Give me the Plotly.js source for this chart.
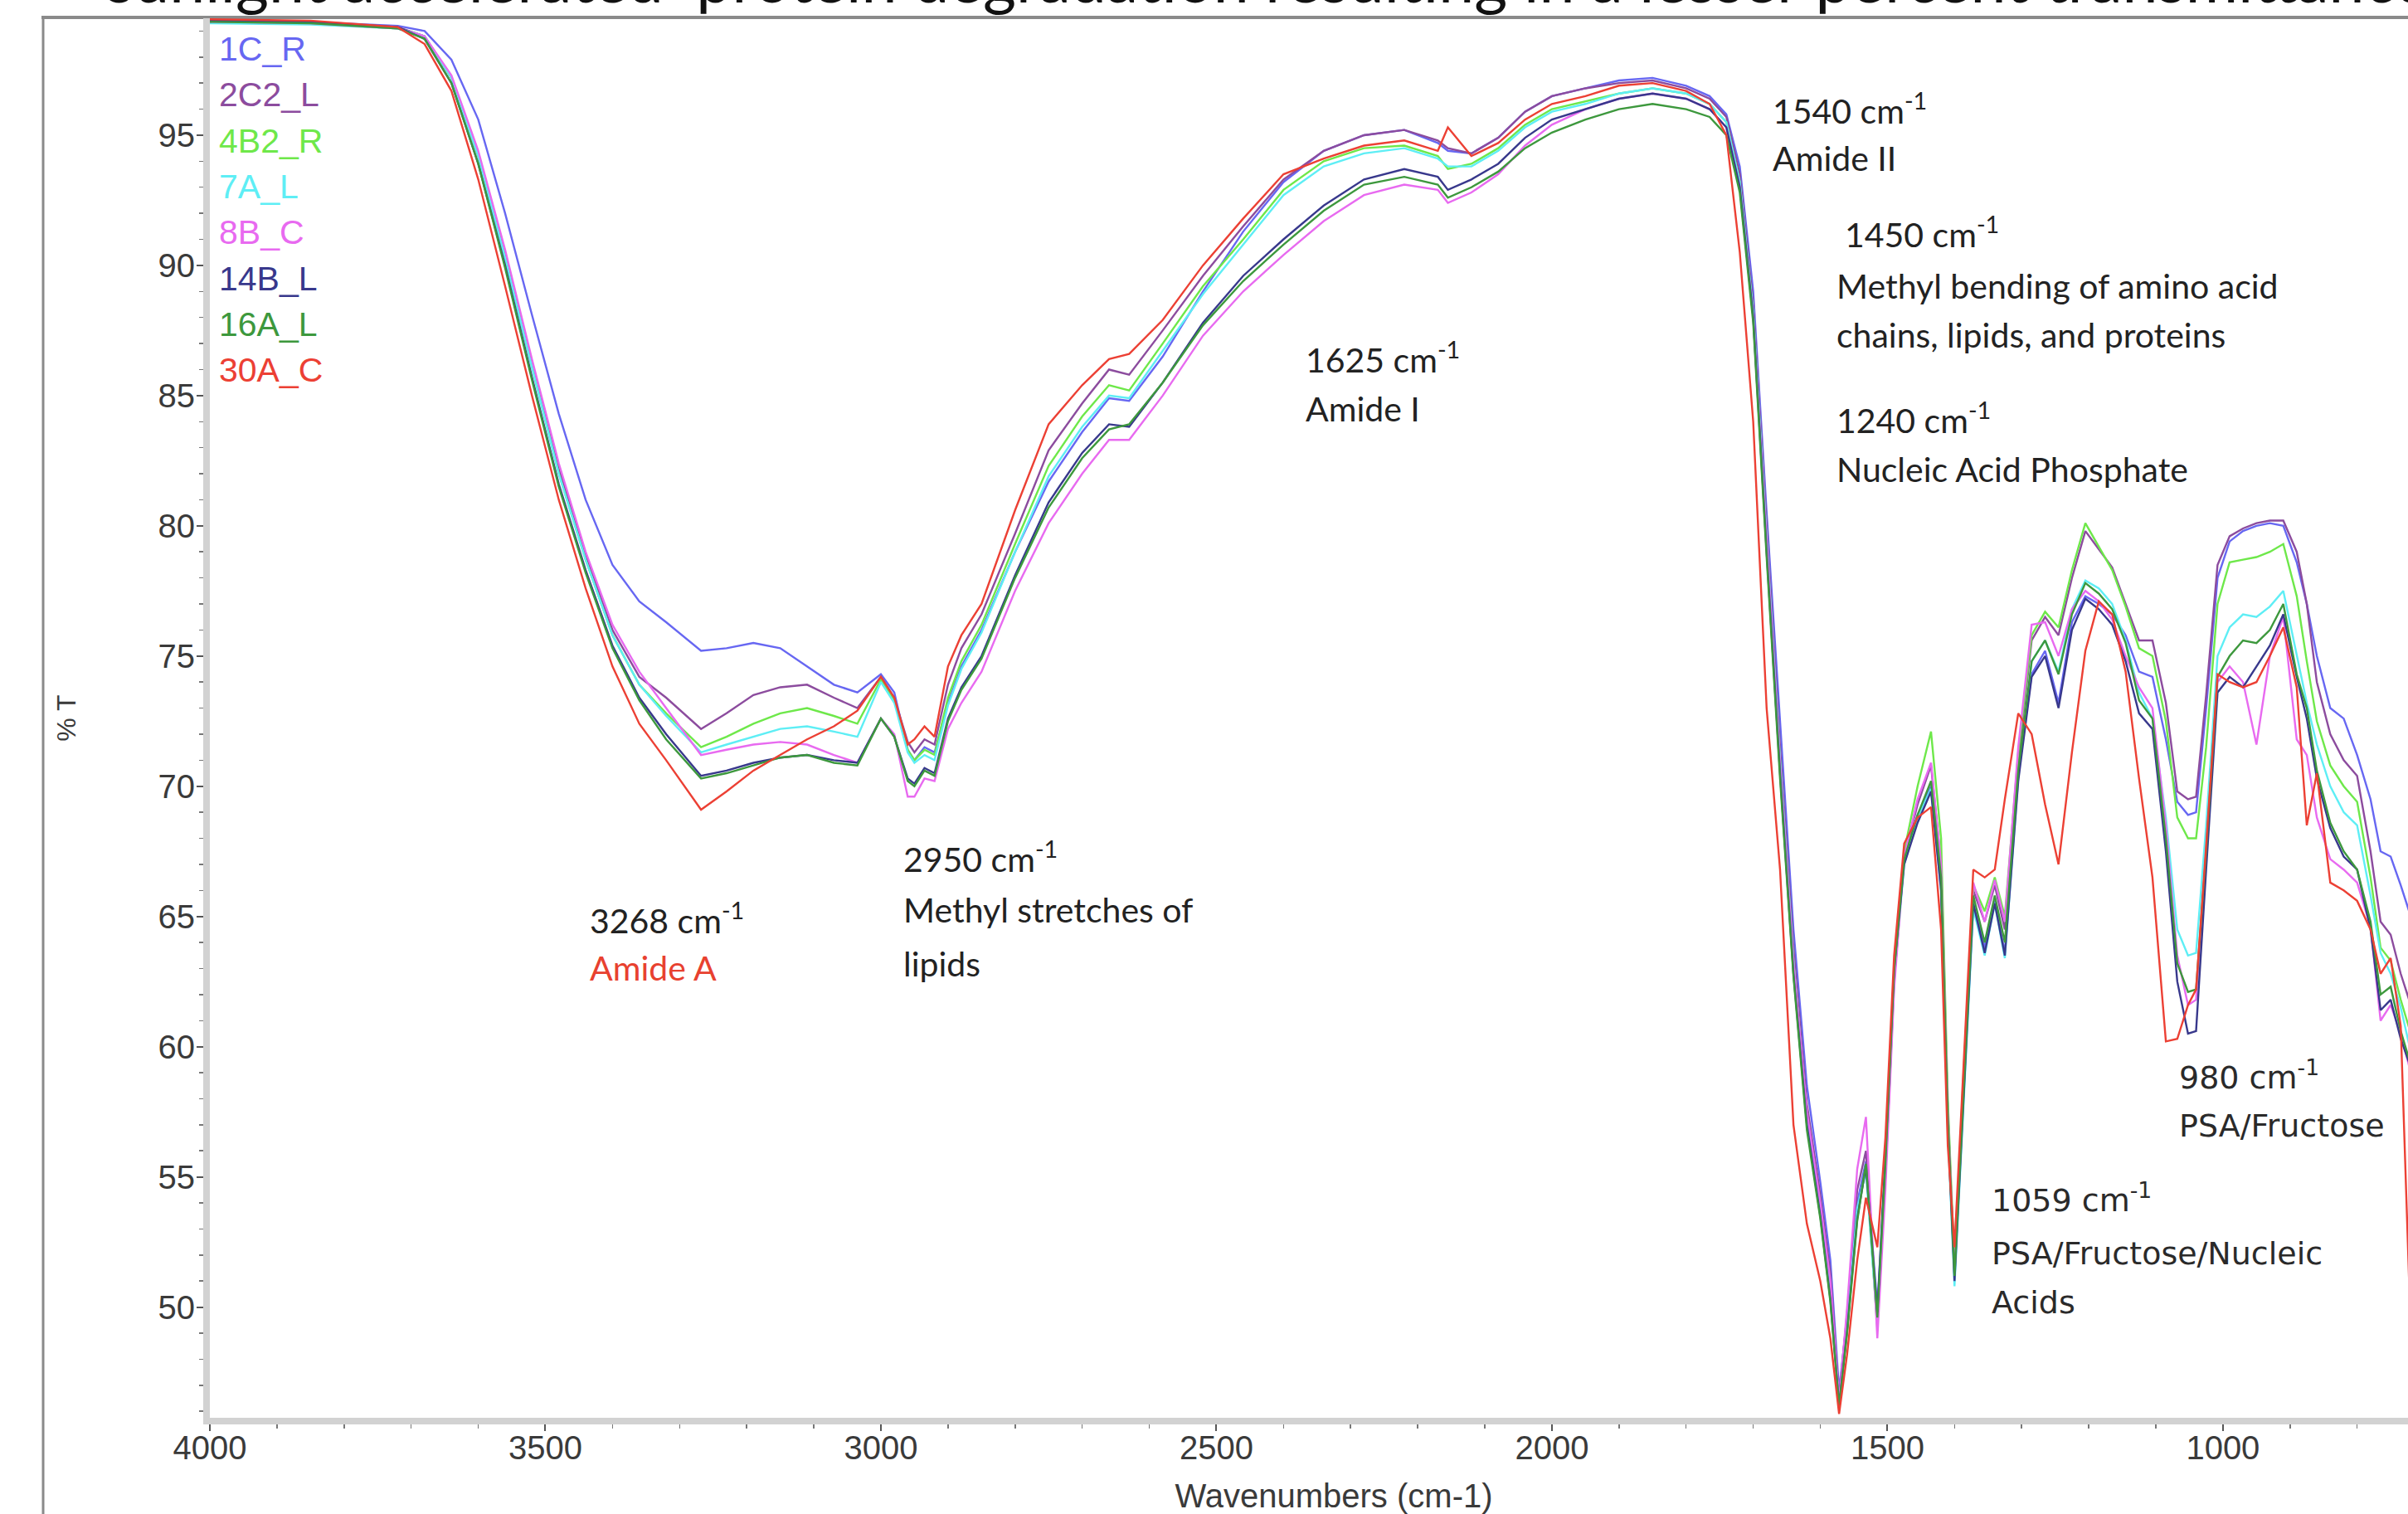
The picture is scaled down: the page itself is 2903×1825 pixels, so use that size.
<!DOCTYPE html>
<html><head><meta charset="utf-8">
<script src="https://cdn.plot.ly/plotly-3.0.1.min.js"></script>
<style>html,body{margin:0;padding:0;overflow:hidden;background:#fff;width:2903px;height:1825px}</style>
</head><body><div id="chart" style="width:2975px;height:1825px"></div>
<script>
// ---------------- DATA ----------------
const wavenumber = [4000,3850,3720,3680,3640,3600,3560,3520,3480,3440,
3400,3360,3320,3268,3230,3190,3150,3110,3070,3035,
3000,2980,2960,2950,2935,2920,2900,2880,2850,2800,
2750,2700,2660,2630,2580,2520,2460,2400,2340,2280,
2220,2170,2155,2120,2080,2040,2000,1950,1900,1850,
1800,1765,1740,1720,1700,1680,1660,1640,1620,1600,
1585,1572,1560,1545,1532,1515,1503,1490,1475,1455,
1435,1420,1410,1400,1388,1372,1355,1340,1325,1305,
1285,1265,1245,1225,1205,1185,1165,1145,1125,1105,
1085,1068,1052,1040,1025,1008,990,970,950,930,
910,890,875,860,840,820,800,780,765,750,
735,720,700];

const t_1C_R = [99.4,99.35,99.2,99.0,97.9,95.6,92.0,88.1,84.3,81.0,
78.5,77.1,76.3,75.2,75.3,75.5,75.3,74.6,73.9,73.6,
74.3,73.6,71.4,71.0,71.5,71.3,73.2,74.6,76.0,79.0,
81.7,83.6,84.9,84.8,86.5,89.0,91.3,93.2,94.4,95.0,
95.2,94.7,94.4,94.3,94.9,95.9,96.5,96.8,97.1,97.2,
96.9,96.5,95.8,93.8,89.0,80.5,72.5,64.5,58.5,54.8,
51.8,46.8,49.6,54.0,55.6,50.0,55.5,62.8,67.2,68.9,
70.0,66.5,57.5,51.2,57.5,65.5,63.8,65.6,63.6,70.5,
74.3,75.2,73.2,76.3,77.3,77.0,76.6,75.8,74.4,74.2,
71.8,69.4,68.9,69.0,73.0,78.0,79.4,79.8,80.0,80.1,
80.0,78.6,77.0,75.0,73.0,72.6,71.2,69.5,67.5,67.3,
66.2,65.0,64.5];

const t_2C2_L = [99.4,99.35,99.15,98.8,97.2,94.2,90.4,86.2,82.2,78.9,
76.0,74.2,73.4,72.2,72.8,73.5,73.8,73.9,73.4,73.0,
74.2,73.4,71.7,71.3,71.8,71.6,73.9,75.3,76.6,79.7,
82.9,84.7,86.0,85.8,87.5,89.6,91.5,93.3,94.4,95.0,
95.2,94.8,94.5,94.3,94.9,95.9,96.5,96.8,97.0,97.1,
96.8,96.4,95.7,93.5,88.5,79.8,71.5,63.8,57.8,54.3,
51.3,46.5,49.8,54.5,56.0,49.4,55.0,62.5,67.3,69.3,
70.8,67.0,57.5,51.3,58.0,66.0,64.8,66.2,64.5,71.0,
75.6,76.5,75.8,78.0,79.8,79.1,78.4,77.0,75.6,75.6,
73.2,69.8,69.5,69.6,73.5,78.5,79.6,79.9,80.1,80.2,
80.2,79.0,77.0,74.0,72.0,71.0,70.4,67.5,64.8,64.3,
62.8,61.6,61.0];

const t_4B2_R = [99.35,99.3,99.1,98.8,97.2,94.2,90.3,86.1,82.0,78.7,
75.8,73.9,72.8,71.5,71.9,72.4,72.8,73.0,72.7,72.4,
74.1,73.3,71.4,71.0,71.4,71.2,73.4,74.8,76.2,79.3,
82.3,84.2,85.4,85.2,87.0,89.2,91.0,92.9,94.0,94.5,
94.6,94.2,93.7,93.9,94.5,95.4,96.0,96.3,96.6,96.8,
96.6,96.2,95.5,93.2,88.2,79.4,71.0,63.3,57.3,53.9,
50.6,46.3,49.2,53.6,55.4,49.2,55.5,62.8,67.5,70.0,
72.1,68.0,58.0,51.5,58.2,66.2,65.2,66.5,65.0,71.3,
75.8,76.7,76.1,78.3,80.1,79.2,78.3,76.9,75.3,75.0,
72.5,68.8,68.0,68.0,71.5,77.0,78.6,78.7,78.8,79.0,
79.3,77.3,74.8,72.5,70.8,70.0,69.4,66.5,63.8,63.3,
61.8,60.5,59.5];

const t_7A_L = [99.3,99.25,99.1,98.8,97.2,94.2,90.3,86.1,82.0,78.7,
75.8,73.9,72.7,71.3,71.6,71.9,72.2,72.3,72.1,71.9,
74.0,73.2,71.3,70.9,71.2,71.0,73.1,74.5,75.9,79.0,
81.9,83.8,85.0,84.9,86.7,88.9,90.8,92.7,93.8,94.3,
94.5,94.1,93.8,93.8,94.4,95.3,95.9,96.2,96.6,96.8,
96.6,96.2,95.5,93.2,88.2,79.4,71.0,63.3,57.3,53.9,
50.5,46.3,49.3,53.8,55.2,49.3,55.0,62.6,67.0,68.8,
69.9,66.0,56.8,50.8,57.0,65.3,63.5,65.5,63.4,70.3,
74.8,75.6,74.4,76.8,77.9,77.6,77.0,75.6,73.6,72.6,
68.8,64.5,63.5,63.6,68.5,75.0,76.1,76.6,76.5,76.9,
77.5,75.0,73.2,71.6,70.0,69.0,68.5,65.8,63.6,62.8,
61.5,59.8,59.0];

const t_8B_C = [99.35,99.3,99.1,98.8,97.3,94.4,90.6,86.4,82.4,79.0,
76.2,74.4,73.0,71.2,71.4,71.6,71.7,71.6,71.2,70.9,
72.6,72.0,69.6,69.6,70.3,70.2,72.2,73.2,74.4,77.5,
80.1,82.0,83.3,83.3,85.0,87.3,89.0,90.4,91.7,92.7,
93.1,92.9,92.4,92.8,93.5,94.6,95.4,96.0,96.4,96.6,
96.4,96.0,95.3,93.0,88.0,79.2,70.8,63.2,57.5,54.0,
51.0,46.4,50.0,55.3,57.3,48.8,54.5,62.2,67.3,69.5,
70.9,67.0,57.5,51.3,58.0,66.3,64.8,66.4,64.8,71.5,
76.2,76.3,75.0,76.8,77.5,77.1,76.4,75.0,73.8,73.0,
68.5,63.5,61.6,61.8,67.5,74.0,74.6,74.0,71.6,75.0,
76.5,71.8,71.2,68.8,67.2,66.8,66.3,64.6,61.0,61.6,
60.5,59.0,58.0];

const t_14B_L = [99.4,99.35,99.15,98.7,97.0,93.9,90.0,85.7,81.6,78.3,
75.4,73.4,72.0,70.4,70.6,70.9,71.1,71.2,71.0,70.9,
72.6,71.9,70.3,70.1,70.7,70.5,72.6,73.8,75.0,78.1,
80.9,82.8,83.9,83.8,85.5,87.8,89.6,91.0,92.3,93.3,
93.7,93.4,92.9,93.3,93.9,94.9,95.6,96.0,96.4,96.6,
96.4,96.0,95.3,93.0,88.0,79.0,70.5,62.8,57.0,53.5,
50.3,46.2,49.1,53.4,55.4,49.8,55.8,63.0,67.0,68.6,
69.8,66.0,57.0,51.0,57.2,65.5,63.6,65.5,63.5,70.2,
74.2,75.0,73.0,76.0,77.2,76.8,76.2,74.8,72.8,72.2,
67.5,62.5,60.5,60.6,66.8,73.6,74.2,73.8,74.6,75.4,
76.6,74.2,72.6,70.3,68.4,67.3,66.8,64.5,61.4,61.8,
60.3,59.2,58.2];

const t_16A_L = [99.35,99.3,99.1,98.7,97.0,93.9,89.9,85.6,81.5,78.2,
75.3,73.3,71.8,70.3,70.5,70.8,71.1,71.2,70.9,70.8,
72.6,71.9,70.2,70.0,70.6,70.4,72.5,73.7,74.9,78.0,
80.7,82.6,83.7,83.9,85.5,87.7,89.4,90.8,92.1,93.1,
93.4,93.1,92.6,93.0,93.6,94.5,95.1,95.6,96.0,96.2,
96.0,95.7,95.0,92.8,87.8,78.8,70.3,62.7,56.8,53.4,
50.2,46.2,49.0,53.3,55.5,49.6,55.5,62.9,67.2,68.9,
70.2,66.5,57.2,51.2,57.5,65.8,64.0,65.8,64.0,70.6,
74.8,75.6,74.3,76.6,77.8,77.4,76.8,75.5,73.3,72.6,
68.0,63.2,62.1,62.2,67.5,74.2,75.0,75.6,75.5,76.0,
77.0,74.3,73.0,70.6,68.6,67.5,66.8,64.8,62.0,62.3,
60.6,59.3,58.5];

const t_30A_C = [99.45,99.4,99.15,98.5,96.7,93.3,89.2,85.0,81.0,77.6,
74.6,72.4,71.0,69.1,69.8,70.6,71.2,71.8,72.3,72.9,
74.2,73.4,71.6,71.8,72.3,71.9,74.6,75.8,77.0,80.6,
83.9,85.4,86.4,86.6,87.9,90.0,91.8,93.5,94.1,94.6,
94.8,94.4,95.3,94.2,94.7,95.6,96.2,96.5,96.9,97.0,
96.7,96.2,95.0,90.5,84.0,73.0,66.8,57.0,53.2,51.0,
48.8,45.9,48.2,51.8,54.2,52.3,56.5,63.5,67.8,68.8,
69.2,64.5,56.2,52.3,58.5,66.8,66.5,66.8,69.5,72.8,
72.0,69.3,67.0,71.3,75.2,77.1,76.6,74.4,70.3,66.5,
60.2,60.3,61.6,62.2,67.7,74.3,74.0,73.8,74.0,75.0,
76.1,73.8,68.5,70.5,66.3,66.0,65.6,64.5,62.8,63.4,
60.8,49.0,45.5];

const sampleNames = ["1C_R","2C2_L","4B2_R","7A_L","8B_C","14B_L","16A_L","30A_C"];
const sampleValues = [t_1C_R,t_2C2_L,t_4B2_R,t_7A_L,t_8B_C,t_14B_L,t_16A_L,t_30A_C];

const peakLabels = ["3268 cm<sup>-1</sup>","Amide A",
  "2950 cm<sup>-1</sup>","Methyl stretches of","lipids",
  "1625 cm<sup>-1</sup>","Amide I",
  "1540 cm<sup>-1</sup>","Amide II",
  "1450 cm<sup>-1</sup>","Methyl bending of amino acid","chains, lipids, and proteins",
  "1240 cm<sup>-1</sup>","Nucleic Acid Phosphate",
  "980 cm<sup>-1</sup>","PSA/Fructose",
  "1059 cm<sup>-1</sup>","PSA/Fructose/Nucleic","Acids"];
const headerText = "sunlight accelerated  protein degradation resulting in a lesser percent transmittance";

// ---------------- STYLE / LAYOUT ----------------
const colors = ["#6767f2","#8c4c9e","#6ee84a","#5eeef5","#e86af0","#38388c","#3d983d","#ec4034"];
const W = 2975, H = 1825, ML = 253, MR = 12, MT = 22, MB = 116;
const PW = W - ML - MR, PH = H - MT - MB;
const px2x = p => (p - ML) / PW;
const py2y = p => (H - MB - p) / PH;

const traces = sampleNames.map((n, i) => ({
  type: "scatter", mode: "lines", name: n,
  x: wavenumber, y: sampleValues[i],
  line: {color: colors[i], width: 2.4},
  hoverinfo: "skip", showlegend: false
}));

const annotations = [];
sampleNames.forEach((n, i) => {
  annotations.push({xref: "paper", yref: "paper", x: px2x(262), y: py2y(59 + i * 55.3),
    xanchor: "left", yanchor: "middle", showarrow: false, text: n,
    font: {family: "Liberation Sans, Arial, sans-serif", size: 41, color: colors[i]}});
});

const calibri = "Lato, 'Open Sans', sans-serif";
const verd = "'DejaVu Sans', Verdana, sans-serif";
const labelPos = [
  [709,1107,calibri,"#222"],[709,1166,calibri,"#e8412f"],
  [1087,1033,calibri,"#222"],[1087,1096,calibri,"#222"],[1087,1161,calibri,"#222"],
  [1572,431,calibri,"#222"],[1572,492,calibri,"#222"],
  [2135,131,calibri,"#222"],[2135,191,calibri,"#222"],
  [2222,280,calibri,"#222"],[2212,344,calibri,"#222"],[2212,404,calibri,"#222"],
  [2212,504,calibri,"#222"],[2212,565,calibri,"#222"],
  [2625,1296,verd,"#2a2a2a"],[2625,1357,verd,"#2a2a2a"],
  [2399,1444,verd,"#2a2a2a"],[2399,1511,verd,"#2a2a2a"],[2399,1570,verd,"#2a2a2a"]
];
peakLabels.forEach((t, i) => {
  const p = labelPos[i];
  annotations.push({xref: "paper", yref: "paper", x: px2x(p[0]), y: py2y(p[1]),
    xanchor: "left", yanchor: "middle", showarrow: false, text: t,
    font: {family: p[2], size: p[2] === verd ? 38 : 41, color: p[3]}});
});
// clipped document line above the figure
annotations.push({xref: "paper", yref: "paper", x: px2x(126), y: py2y(21),
  xanchor: "left", yanchor: "bottom", showarrow: false, text: headerText,
  font: {family: calibri, size: 77, color: "#111"}});

const axisFont = {family: "Liberation Sans, Arial, sans-serif", size: 40, color: "#3a3a3a"};

const layout = {
  width: W, height: H,
  margin: {l: ML, r: MR, t: MT, b: MB, pad: 0},
  paper_bgcolor: "#fff", plot_bgcolor: "#fff",
  showlegend: false,
  xaxis: {
    range: [4000, 650], autorange: false, dtick: 500, tick0: 0,
    showline: true, linecolor: "#d2d2d2", linewidth: 8,
    ticks: "outside", ticklen: 8, tickwidth: 2, tickcolor: "#555",
    ticklabelstandoff: -14,
    minor: {dtick: 100, ticks: "outside", ticklen: 5, tickwidth: 1.5, tickcolor: "#777", showgrid: false},
    showgrid: false, zeroline: false, tickfont: axisFont,
    title: {text: "Wavenumbers (cm-1)", font: axisFont, standoff: 36}
  },
  yaxis: {
    range: [45.75, 99.49], autorange: false, dtick: 5, tick0: 0,
    showline: true, linecolor: "#d2d2d2", linewidth: 8,
    ticks: "outside", ticklen: 8, tickwidth: 2, tickcolor: "#555",
    ticklabelstandoff: -6,
    minor: {dtick: 1, ticks: "outside", ticklen: 5, tickwidth: 1.5, tickcolor: "#777", showgrid: false},
    showgrid: false, zeroline: false, tickfont: axisFont,
    title: {text: "% T", font: {family: "Liberation Sans, Arial, sans-serif", size: 32, color: "#3a3a3a"}, standoff: 92}
  },
  annotations: annotations,
  shapes: [
    {type: "line", xref: "paper", yref: "paper", x0: px2x(50), x1: px2x(W), y0: py2y(21), y1: py2y(21),
     line: {color: "#8a8a8a", width: 4}, layer: "below"},
    {type: "line", xref: "paper", yref: "paper", x0: px2x(52), x1: px2x(52), y0: py2y(20), y1: py2y(H + 10),
     line: {color: "#8a8a8a", width: 3}, layer: "below"}
  ]
};

Plotly.newPlot("chart", traces, layout, {displayModeBar: false, staticPlot: true});
</script></body></html>
